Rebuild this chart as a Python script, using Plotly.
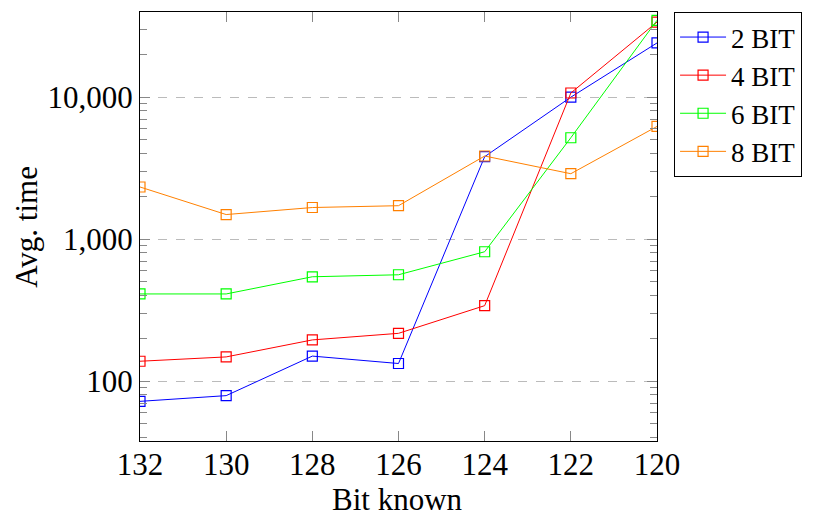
import plotly.graph_objects as go

bits_known = [132, 130, 128, 126, 124, 122, 120]
series_names = ["2 BIT", "4 BIT", "6 BIT", "8 BIT"]
bit2 = [72, 79, 150, 133, 3810, 10000, 24100]
bit4 = [138, 148, 195, 217, 340, 10700, 33800]
bit6 = [411, 411, 543, 561, 815, 5180, 34800]
bit8 = [2330, 1490, 1670, 1720, 3850, 2890, 6220]
colors = ["#0000ff", "#ff0000", "#00ff00", "#ff8000"]
x_ticks = [132, 130, 128, 126, 124, 122, 120]
y_tickvals = [100, 1000, 10000]
y_ticktext = ["100", "1,000", "10,000"]
y_minor = [40, 50, 60, 70, 80, 90, 200, 300, 400, 500, 600, 700, 800, 900,
           2000, 3000, 4000, 5000, 6000, 7000, 8000, 9000, 20000, 30000]
x_title = "Bit known"
y_title = "Avg. time"

FONT = "Liberation Serif"
FS = 31
fig = go.Figure()
for name, vals, c in zip(series_names, [bit2, bit4, bit6, bit8], colors):
    fig.add_trace(go.Scatter(
        x=bits_known, y=vals, name=name, mode="lines+markers",
        line=dict(color=c, width=1),
        marker=dict(symbol="square-open", size=10, color=c, line=dict(width=1.2, color=c)),
    ))

fig.update_layout(
    width=817, height=517,
    margin=dict(l=132, r=168, t=4, b=84, autoexpand=False),
    paper_bgcolor="white", plot_bgcolor="white",
    font=dict(family=FONT, size=FS, color="black"),
    legend=dict(x=1.033, y=1.0, xanchor="left", yanchor="top",
                bordercolor="black", borderwidth=1, bgcolor="white",
                font=dict(family=FONT, size=27), tracegroupgap=0, itemwidth=46),
    showlegend=True,
    annotations=[
        dict(text=x_title, xref="paper", yref="paper", x=0.499, y=-0.136,
             xanchor="center", yanchor="middle", showarrow=False,
             font=dict(family=FONT, size=FS)),
        dict(text=y_title, xref="paper", yref="paper", x=-0.22, y=0.5,
             xanchor="center", yanchor="middle", showarrow=False, textangle=-90,
             font=dict(family=FONT, size=FS)),
    ],
)
fig.update_xaxes(
    range=[132, 120], tickvals=x_ticks, ticktext=[str(v) for v in x_ticks],
    showline=True, linecolor="black", linewidth=1, mirror="allticks",
    ticks="inside", ticklen=10, tickcolor="#888", showgrid=False, zeroline=False,
    automargin=False, ticklabelstandoff=-4,
    tickfont=dict(family=FONT, size=FS),
)
fig.update_yaxes(
    type="log", range=[1.578, 4.600], tickvals=y_tickvals, ticktext=y_ticktext,
    showline=True, linecolor="black", linewidth=1, mirror="allticks",
    ticks="inside", ticklen=10, tickcolor="#888",
    showgrid=True, gridcolor="#bbbbbb", griddash="dash", gridwidth=1, zeroline=False,
    automargin=False,
    minor=dict(ticks="inside", ticklen=7, tickcolor="#888", showgrid=False, tickvals=y_minor),
    tickfont=dict(family=FONT, size=FS),
)
fig.write_html("out.html")
